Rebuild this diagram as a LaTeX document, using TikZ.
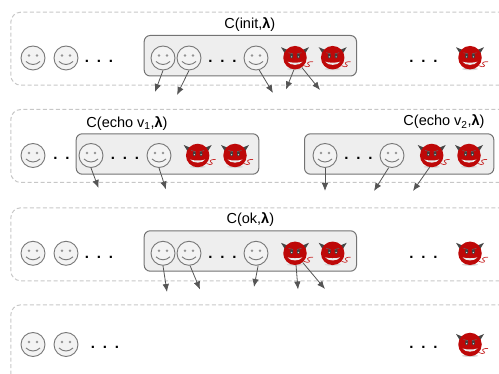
\documentclass[tikz,border=0pt]{standalone}
\usepackage{fontspec}
\setmainfont{Liberation Sans}
\usepackage{tikz}
\usetikzlibrary{arrows.meta,positioning}
\definecolor{devilred}{RGB}{190, 8, 8}
\definecolor{hornc}{RGB}{70, 70, 70}
\definecolor{facec}{RGB}{120, 120, 120}
\definecolor{groupfill}{RGB}{238, 238, 238}
\definecolor{edgec}{RGB}{85, 85, 85}
\newcommand{\dotrow}{.\hspace{7.8pt}.\hspace{7.8pt}.}
\newcommand{\lam}{\textbf{λ}}
\tikzstyle{stage} = [rectangle, rounded corners=10pt, draw=black!22, dash pattern=on 4pt off 2.5pt, line width=1.0pt, fill=none, minimum width=540pt, inner sep=0pt]
\tikzstyle{quorum} = [rectangle, rounded corners=6pt, draw=black!55, line width=1.0pt, fill=groupfill, inner sep=0pt]
\tikzstyle{textonly} = [draw=none, fill=none, text centered, font=\fontsize{14.5}{16}\selectfont, inner sep=0pt]
\tikzstyle{dotsonly} = [draw=none, fill=none, anchor=base, font=\fontsize{15}{16}\selectfont\bfseries, inner sep=0pt]
\tikzstyle{tedge}  = [draw=edgec, line width=0.8pt, -{Latex[length=8pt,width=6.5pt]}]
\tikzset{
  smiley/.pic = {
    \node[circle, draw=facec, line width=0.9pt, fill=groupfill!70, minimum size=24pt, inner sep=0pt] (-n) {};
    \fill[facec!80] (-4,-2.5) circle (1.3pt) (4,-2.5) circle (1.3pt);
    \draw[facec, line width=0.9pt] (-7,3.5) .. controls (-3,7.5) and (3,7.5) .. (7,3.5);
  },
  devil/.pic = {
    % shadow, horns, tail
    \fill[black!15] (0,11.3) ellipse (8pt and 1.2pt);
    \fill[hornc] (-8,-8) -- (-14,-10.5) -- (-10,-4) -- cycle;
    \fill[hornc] (8,-8) -- (14,-10.5) -- (10,-4) -- cycle;
    \draw[devilred!85!white, line width=0.7pt] (9,8) .. controls (13,10.5) and (17,8) .. (13,6.5) .. controls (11,5) and (15,3.5) .. (18,4);
    % head
    \node[circle, fill=devilred, minimum size=23.5pt, inner sep=0pt] (-n) {};
    \fill[black!75] (-3.4,-1.8) ellipse (1.5pt and 2.6pt) (3.4,-1.8) ellipse (1.5pt and 2.6pt);
    \fill[black!15] (-3.4,-0.8) circle (0.7pt) (3.4,-0.8) circle (0.7pt);
    \draw[black!60, line width=0.5pt] (-6.5,-5) -- (-2,-3.8) (6.5,-5) -- (2,-3.8);
    \fill[white!92!black] (-7.5,4) .. controls (-4,5.3) and (4,5.3) .. (7.5,4) .. controls (5,8.2) and (-5,8.2) .. (-7.5,4) -- cycle;
  }
}

\begin{document}
\begin{tikzpicture}[x=1pt,y=-1pt]
\useasboundingbox (0,0) rectangle (499,374);
\clip (0,0) rectangle (499,374);

% stages =============================

\node[stage, minimum height=73pt, anchor=north west] (r1) at (10.3,11.7) {};
\node[stage, minimum height=73pt, anchor=north west] (r2) at (10.3,109) {};
\node[stage, minimum height=73pt, anchor=north west] (r3) at (10.3,207.3) {};
\node[stage, minimum height=110pt, anchor=north west] (r4) at (10.3,304.3) {};

% quorums
\node[quorum, minimum width=212.3pt, minimum height=40.5pt, anchor=north west] (q1) at (143.7,35) {};
\node[quorum, minimum width=182.6pt, minimum height=40.4pt, anchor=north west] (q2) at (75.7,133.3) {};
\node[quorum, minimum width=189.3pt, minimum height=40.4pt, anchor=north west] (q3) at (304,133.3) {};
\node[quorum, minimum width=212.3pt, minimum height=40.4pt, anchor=north west] (q4) at (143.7,230.3) {};

%labels

\node[textonly, above=3.5pt of q1, xshift=-0.5pt] (l1) {C(init,\lam)};
\node[textonly, anchor=base] (l2) at (127,127.5) {C(echo v\textsubscript{1},\lam)};
\node[textonly, anchor=base] (l3) at (444,126) {C(echo v\textsubscript{2},\lam)};
\node[textonly, above=3.5pt of q4] (l4) {C(ok,\lam)};

% first row
\pic (a1) at (33,58) {smiley};
\pic (a2) at (66,58) {smiley};
\node[dotsonly] (ad1) at (99,63) {\dotrow};
\pic (a3) at (163,58) {smiley};
\pic (a4) at (189,58) {smiley};
\node[dotsonly] (ad2) at (222.5,63) {\dotrow};
\pic (a5) at (256,58) {smiley};
\pic (a6) at (295,57.7) {devil};
\pic (a7) at (332.7,57.7) {devil};
\node[dotsonly] (ad3) at (423.5,63) {\dotrow};
\pic (a8) at (470,57.7) {devil};

% second row
\pic (b1) at (33,155.5) {smiley};
\node[dotsonly] (bd1) at (61.5,160) {.\hspace{7.8pt}.};
\pic (b2) at (91,155.5) {smiley};
\node[dotsonly] (bd2) at (125,160) {\dotrow};
\pic (b3) at (159,155.5) {smiley};
\pic (b4) at (197.7,155.5) {devil};
\pic (b5) at (235,155.5) {devil};
\pic (b6) at (325,155.5) {smiley};
\node[dotsonly] (bd3) at (358.5,160) {\dotrow};
\pic (b7) at (392,155.5) {smiley};
\pic (b8) at (431.7,155.5) {devil};
\pic (b9) at (469,155.5) {devil};

% third row
\pic (c1) at (33,253.3) {smiley};
\pic (c2) at (66,253.3) {smiley};
\node[dotsonly] (cd1) at (99,258.5) {\dotrow};
\pic (c3) at (163,253.3) {smiley};
\pic (c4) at (189,253.3) {smiley};
\node[dotsonly] (cd2) at (222.5,258.5) {\dotrow};
\pic (c5) at (256,253.3) {smiley};
\pic (c6) at (295,253.3) {devil};
\pic (c7) at (332.7,253.3) {devil};
\node[dotsonly] (cd3) at (423.5,258.5) {\dotrow};
\pic (c8) at (470,253.3) {devil};

% fourth row
\pic (d1) at (33,344.5) {smiley};
\pic (d2) at (66,344.5) {smiley};
\node[dotsonly] (dd1) at (105,349) {\dotrow};
\node[dotsonly] (dd2) at (423.5,349) {\dotrow};
\pic (d3) at (470,344.5) {devil};

% arrow ends
\coordinate (ae1) at (155,92);
\coordinate (ae2) at (177,95);
\coordinate (ae3) at (273,93);
\coordinate (ae4) at (286,89.5);
\coordinate (ae5) at (320,90);
\coordinate (be1) at (98.5,188);
\coordinate (be2) at (166,189.5);
\coordinate (be3) at (325,191);
\coordinate (be4) at (374,191);
\coordinate (be5) at (413,191);
\coordinate (ce1) at (167,292);
\coordinate (ce2) at (200,289.5);
\coordinate (ce3) at (254,287);
\coordinate (ce4) at (298,289.5);
\coordinate (ce5) at (325,289);

%edges first to second

\path[tedge] (a3-n.south) -- (ae1);
\path[tedge] (a4-n.south) -- (ae2);
\path[tedge] (a5-n.-75) -- (ae3);
\path[tedge] (a6-n.-95) -- (ae4);
\path[tedge] (a6-n.-55) -- (ae5);

%edges second to third

\path[tedge] (b2-n.south) -- (be1);
\path[tedge] (b3-n.south) -- (be2);
\path[tedge] (b6-n.south) -- (be3);
\path[tedge] (b7-n.-105) -- (be4);
\path[tedge] (b8-n.-100) -- (be5);

%edges third to fourth

\path[tedge] (c3-n.south) -- (ce1);
\path[tedge] (c4-n.-85) -- (ce2);
\path[tedge] (c5-n.-80) -- (ce3);
\path[tedge] (c6-n.-85) -- (ce4);
\path[tedge] (c6-n.-50) -- (ce5);

\end{tikzpicture}
\end{document}
